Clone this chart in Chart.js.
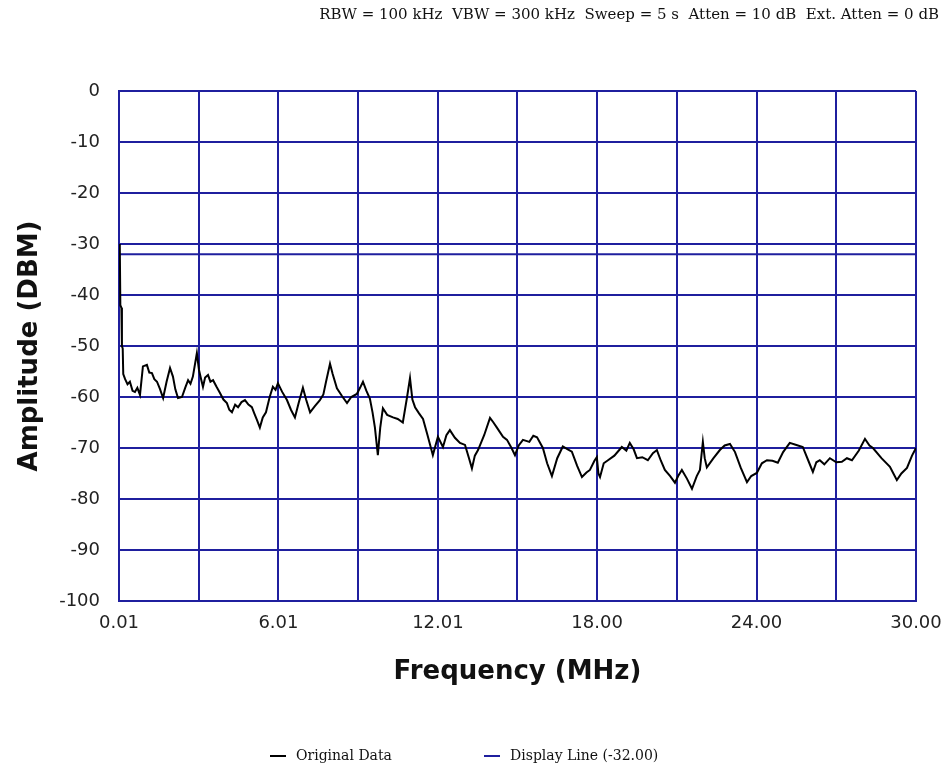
<!DOCTYPE html>
<html>
<head>
<meta charset="utf-8">
<script src="https://cdn.jsdelivr.net/npm/chart.js"></script>
<style>
  html, body { margin: 0; padding: 0; background: #fff; }
</style>
</head>
<body>
<canvas id="specChart" width="951" height="771"></canvas>
<script>
// spectrum trace
const freqMHz = [
  0.01, 0.04, 0.06, 0.10, 0.12, 0.15, 0.17, 0.24, 0.33, 0.42, 0.52, 0.61, 0.70, 0.80, 0.91,
  1.06, 1.15, 1.25, 1.34, 1.44, 1.55, 1.67, 1.80, 1.93, 2.04, 2.13, 2.23, 2.38, 2.50, 2.61,
  2.70, 2.79, 2.94, 3.02, 3.10, 3.17, 3.25, 3.36, 3.45, 3.55, 3.68, 3.81, 3.94, 4.07, 4.16,
  4.26, 4.38, 4.49, 4.62, 4.75, 4.88, 5.01, 5.10, 5.20, 5.31, 5.42, 5.54, 5.68, 5.80, 5.90,
  5.99, 6.15, 6.33, 6.48, 6.63, 6.78, 6.93, 7.05, 7.20, 7.38, 7.57, 7.70, 7.80, 7.95, 8.05,
  8.21, 8.40, 8.59, 8.75, 8.96, 9.08, 9.19, 9.32, 9.45, 9.55, 9.64, 9.75, 9.84, 9.94, 10.10,
  10.32, 10.50, 10.69, 10.85, 10.96, 11.05, 11.15, 11.30, 11.45, 11.62, 11.82, 12.01, 12.20, 12.33, 12.46,
  12.65, 12.84, 13.03, 13.18, 13.29, 13.40, 13.52, 13.75, 13.97, 14.10, 14.23, 14.46, 14.61, 14.78, 14.91,
  15.05, 15.21, 15.45, 15.60, 15.74, 15.96, 16.12, 16.30, 16.50, 16.71, 16.88, 17.05, 17.25, 17.43, 17.60,
  17.73, 17.90, 17.99, 18.05, 18.11, 18.25, 18.41, 18.65, 18.93, 19.10, 19.23, 19.38, 19.50, 19.70, 19.91,
  20.10, 20.25, 20.40, 20.55, 20.75, 20.93, 21.05, 21.19, 21.38, 21.57, 21.75, 21.87, 21.98, 22.05, 22.13,
  22.38, 22.62, 22.80, 23.00, 23.19, 23.40, 23.64, 23.80, 24.01, 24.20, 24.39, 24.60, 24.80, 25.00, 25.25,
  25.50, 25.74, 25.95, 26.12, 26.25, 26.38, 26.55, 26.76, 27.00, 27.21, 27.40, 27.59, 27.85, 28.08, 28.25,
  28.38, 28.70, 29.02, 29.15, 29.28, 29.45, 29.66, 29.85, 30.00
];
const ampDBM = [
  -30, -30.5, -42, -42.5, -50, -50.5, -55.5, -56.5, -57.5, -57, -58.8, -59, -58.2, -59.6, -54,
  -53.7, -55.2, -55.3, -56.5, -57, -58.4, -60.2, -57, -54.3, -56, -58.5, -60.2, -60, -58.2, -56.7,
  -57.4, -56, -51.4, -54.7, -56.5, -58, -56.2, -55.7, -57, -56.7, -58, -59.2, -60.5, -61.2, -62.5,
  -63, -61.5, -62, -61, -60.6, -61.5, -62, -63.2, -64.5, -66, -64, -63, -60, -58, -58.6,
  -57.3, -59, -60.6, -62.5, -64, -61, -58.2, -60.5, -63, -61.8, -60.6, -59.5, -57, -53.5, -55.5,
  -58.3, -59.8, -61.2, -60, -59.4, -58.2, -57, -58.8, -60.3, -63, -66, -71.4, -66, -62.2, -63.5,
  -64, -64.3, -65, -60, -56.3, -60.5, -62, -63.2, -64.3, -67.5, -71.4, -67.8, -69.8, -67.5, -66.5,
  -68, -69, -69.4, -72, -74, -71.5, -70.4, -67.5, -64.1, -65, -66, -67.8, -68.4, -70, -71.4,
  -69.5, -68.4, -68.8, -67.6, -67.9, -70, -73, -75.5, -72, -69.7, -70.2, -70.7, -73.5, -75.7, -74.8,
  -74.3, -72.5, -71.8, -75, -75.7, -73, -72.4, -71.5, -69.8, -70.5, -69, -70.3, -72, -71.8, -72.4,
  -71, -70.4, -72.5, -74.3, -75.5, -76.8, -75.5, -74.3, -76, -78, -75.5, -74.3, -68.8, -72, -73.8,
  -72, -70.4, -69.5, -69.2, -70.8, -73.8, -76.7, -75.5, -74.9, -73, -72.4, -72.5, -72.9, -70.8, -69,
  -69.4, -69.8, -72.5, -74.7, -72.8, -72.4, -73.2, -72, -72.8, -72.7, -72, -72.4, -70.5, -68.2, -69.5,
  -70, -72, -73.7, -75, -76.3, -75, -73.9, -71.5, -70
];
const displayLevel = -32.00;

const xGrid = [0.01, 3.01, 6.01, 9.00, 12.01, 15.00, 18.00, 21.00, 24.00, 27.00, 30.00];
const xTickLabels = ['0.01', '', '6.01', '', '12.01', '', '18.00', '', '24.00', '', '30.00'];
const yMin = -100, yMax = 0, yStep = 10;

const headerText = 'RBW = 100 kHz  VBW = 300 kHz  Sweep = 5 s  Atten = 10 dB  Ext. Atten = 0 dB';
const seriesNames = ['Original Data', 'Display Line (-32.00)'];

const gridBlue = '#1f1f9e';

// header line and the little legend at the bottom
const extras = {
  id: 'extras',
  afterDraw(chart) {
    const ctx = chart.ctx;
    ctx.save();
    ctx.fillStyle = '#111';
    ctx.textBaseline = 'middle';
    ctx.font = '15px "DejaVu Serif"';
    ctx.textAlign = 'right';
    ctx.fillText(headerText, 939, 15);

    ctx.font = '14px "DejaVu Serif"';
    ctx.textAlign = 'left';
    const spots = [270, 484];
    chart.data.datasets.forEach((ds, i) => {
      const x = spots[i];
      ctx.strokeStyle = ds.borderColor;
      ctx.lineWidth = 2;
      ctx.beginPath();
      ctx.moveTo(x, 756);
      ctx.lineTo(x + 16, 756);
      ctx.stroke();
      ctx.fillText(ds.label, x + 26, 756);
    });
    ctx.restore();
  }
};

const ctx = document.getElementById('specChart').getContext('2d');
const chart = new Chart(ctx, {
  type: 'line',
  data: {
    datasets: [
      {
        label: seriesNames[0],
        data: freqMHz.map((f, i) => ({ x: f, y: ampDBM[i] })),
        borderColor: '#000000',
        borderWidth: 2,
        pointRadius: 0,
        tension: 0
      },
      {
        label: seriesNames[1],
        data: [{ x: xGrid[0], y: displayLevel }, { x: xGrid[xGrid.length - 1], y: displayLevel }],
        borderColor: gridBlue,
        borderWidth: 2,
        pointRadius: 0
      }
    ]
  },
  plugins: [extras],
  options: {
    responsive: false,
    animation: false,
    layout: { padding: { left: 0, right: 35, top: 91, bottom: 0 } },
    plugins: {
      legend: { display: false },
      tooltip: { enabled: false }
    },
    scales: {
      x: {
        type: 'linear',
        min: xGrid[0],
        max: xGrid[xGrid.length - 1],
        afterBuildTicks: scale => { scale.ticks = xGrid.map(v => ({ value: v })); },
        afterFit: scale => {
          scale.height = 170;
          scale.paddingLeft = 0;
          scale.paddingRight = 0;
        },
        grid: { color: gridBlue, lineWidth: 2, drawTicks: false },
        border: { color: gridBlue, width: 2 },
        ticks: {
          autoSkip: false,
          maxRotation: 0,
          padding: 12,
          color: '#222',
          font: { family: 'DejaVu Sans', size: 18 },
          callback: (v, i) => xTickLabels[i]
        },
        title: {
          display: true,
          text: 'Frequency (MHz)',
          color: '#111',
          font: { family: 'DejaVu Sans', size: 26, weight: 'bold' },
          padding: { top: 0, bottom: 83 }
        }
      },
      y: {
        min: yMin,
        max: yMax,
        afterFit: scale => { scale.width = 119; },
        grid: { color: gridBlue, lineWidth: 2, drawTicks: false },
        border: { color: gridBlue, width: 2 },
        ticks: {
          stepSize: yStep,
          padding: 19,
          color: '#222',
          font: { family: 'DejaVu Sans', size: 18 }
        },
        title: {
          display: true,
          text: 'Amplitude (DBM)',
          color: '#111',
          font: { family: 'DejaVu Sans', size: 26, weight: 'bold' },
          padding: { top: 15, bottom: 0 }
        }
      }
    }
  }
});
</script>
</body>
</html>
